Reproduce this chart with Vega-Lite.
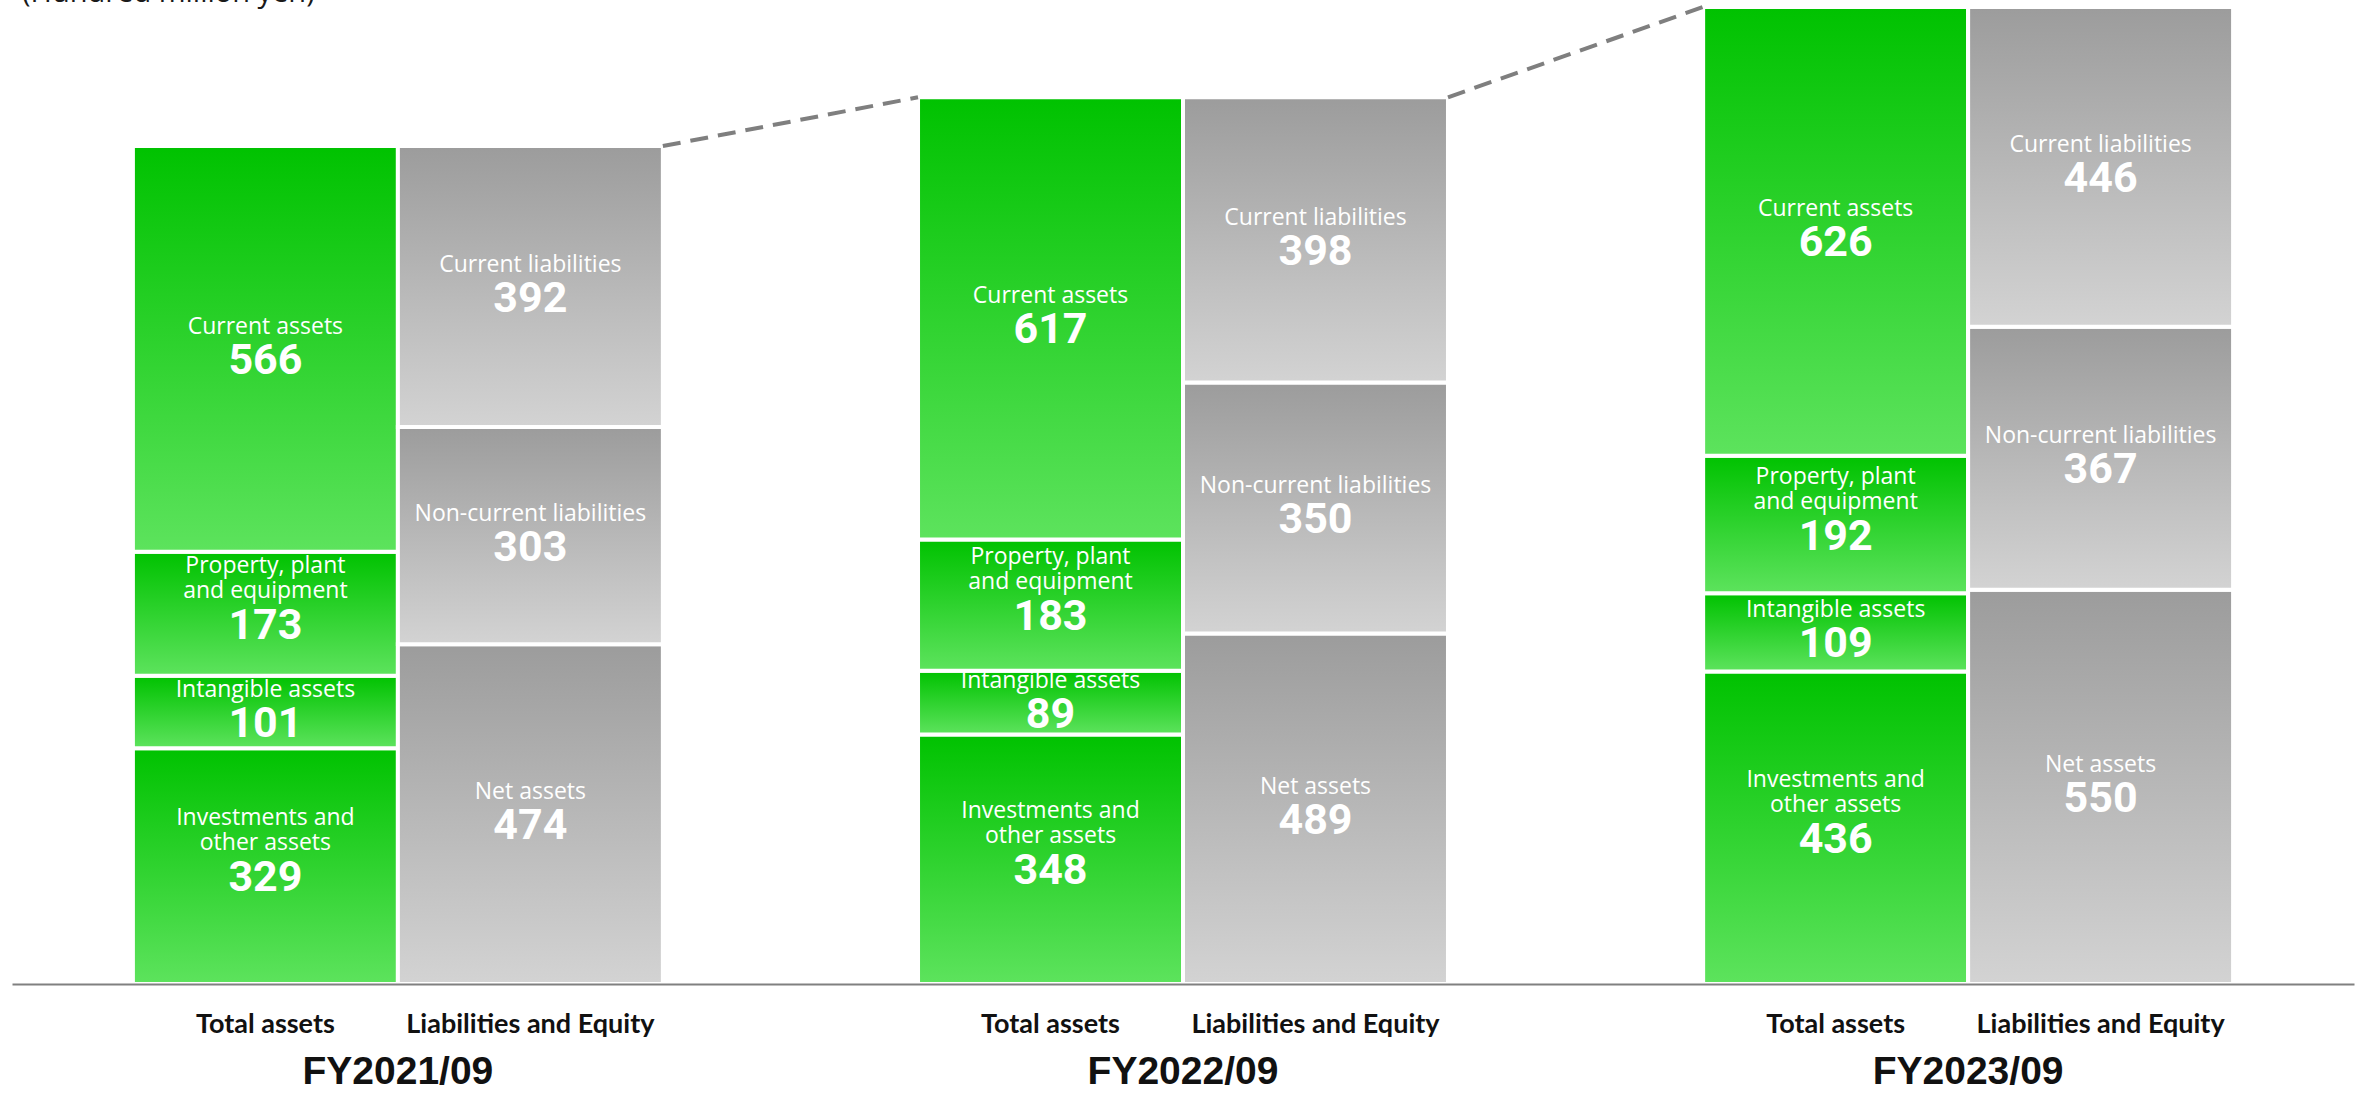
{
  "$schema": "https://vega.github.io/schema/vega-lite/v6.json",
  "autosize": {"type": "none"},
  "padding": {"left": 12, "top": 7, "right": 12, "bottom": 110},
  "width": 2342,
  "height": 977,
  "background": "white",
  "config": {"view": {"stroke": null}},
  "title": {
    "text": "(Hundred million yen)",
    "anchor": "start",
    "frame": "group",
    "font": "Open Sans",
    "fontSize": 29,
    "fontWeight": "normal",
    "color": "#1a1a1a",
    "baseline": "alphabetic",
    "offset": -26,
    "dx": 10
  },
  "datasets": {
    "balance": [
      {"year": "FY2021/09", "side": "Total assets", "item": "Investments and\nother assets", "order": 1, "value": 329},
      {"year": "FY2021/09", "side": "Total assets", "item": "Intangible assets", "order": 2, "value": 101},
      {"year": "FY2021/09", "side": "Total assets", "item": "Property, plant\nand equipment", "order": 3, "value": 173},
      {"year": "FY2021/09", "side": "Total assets", "item": "Current assets", "order": 4, "value": 566},
      {"year": "FY2021/09", "side": "Liabilities and Equity", "item": "Net assets", "order": 1, "value": 474},
      {"year": "FY2021/09", "side": "Liabilities and Equity", "item": "Non-current liabilities", "order": 2, "value": 303},
      {"year": "FY2021/09", "side": "Liabilities and Equity", "item": "Current liabilities", "order": 3, "value": 392},
      {"year": "FY2022/09", "side": "Total assets", "item": "Investments and\nother assets", "order": 1, "value": 348},
      {"year": "FY2022/09", "side": "Total assets", "item": "Intangible assets", "order": 2, "value": 89},
      {"year": "FY2022/09", "side": "Total assets", "item": "Property, plant\nand equipment", "order": 3, "value": 183},
      {"year": "FY2022/09", "side": "Total assets", "item": "Current assets", "order": 4, "value": 617},
      {"year": "FY2022/09", "side": "Liabilities and Equity", "item": "Net assets", "order": 1, "value": 489},
      {"year": "FY2022/09", "side": "Liabilities and Equity", "item": "Non-current liabilities", "order": 2, "value": 350},
      {"year": "FY2022/09", "side": "Liabilities and Equity", "item": "Current liabilities", "order": 3, "value": 398},
      {"year": "FY2023/09", "side": "Total assets", "item": "Investments and\nother assets", "order": 1, "value": 436},
      {"year": "FY2023/09", "side": "Total assets", "item": "Intangible assets", "order": 2, "value": 109},
      {"year": "FY2023/09", "side": "Total assets", "item": "Property, plant\nand equipment", "order": 3, "value": 192},
      {"year": "FY2023/09", "side": "Total assets", "item": "Current assets", "order": 4, "value": 626},
      {"year": "FY2023/09", "side": "Liabilities and Equity", "item": "Net assets", "order": 1, "value": 550},
      {"year": "FY2023/09", "side": "Liabilities and Equity", "item": "Non-current liabilities", "order": 2, "value": 367},
      {"year": "FY2023/09", "side": "Liabilities and Equity", "item": "Current liabilities", "order": 3, "value": 446}
    ],
    "links": [
      {"from": "FY2021/09", "to": "FY2022/09", "fromTotal": 1169, "toTotal": 1237},
      {"from": "FY2022/09", "to": "FY2023/09", "fromTotal": 1237, "toTotal": 1363}
    ]
  },
  "layer": [
    {
      "data": {"name": "balance"},
      "transform": [{"filter": "datum.side === 'Total assets'"}],
      "mark": {
        "type": "bar",
        "stroke": "white",
        "strokeWidth": 4,
        "fill": {
          "gradient": "linear", "x1": 0, "y1": 0, "x2": 0, "y2": 1,
          "stops": [{"offset": 0, "color": "#00c200"}, {"offset": 1, "color": "#5de35d"}]
        }
      },
      "encoding": {
        "x": {
          "field": "year", "type": "nominal", "title": null,
          "scale": {"paddingInner": 0.325, "paddingOuter": 0.154},
          "axis": {
            "title": null, "grid": false, "ticks": false, "tickSize": 0, "zindex": 1,
            "domainColor": "#808080", "domainWidth": 2,
            "labelAngle": 0, "labelFont": "Liberation Sans", "labelFontWeight": "bold",
            "labelFontSize": 39, "labelColor": "#111111", "labelBaseline": "alphabetic",
            "labelPadding": 99, "labelLimit": 0
          }
        },
        "xOffset": {"field": "side", "type": "nominal", "sort": ["Total assets", "Liabilities and Equity"], "scale": {"paddingInner": 0, "paddingOuter": 0}},
        "y": {"field": "value", "type": "quantitative", "stack": "zero", "scale": {"domain": [0, 1363], "nice": false}, "axis": null},
        "order": {"field": "order", "type": "quantitative"}
      }
    },
    {
      "data": {"name": "balance"},
      "transform": [{"filter": "datum.side === 'Liabilities and Equity'"}],
      "mark": {
        "type": "bar",
        "stroke": "white",
        "strokeWidth": 4,
        "fill": {
          "gradient": "linear", "x1": 0, "y1": 0, "x2": 0, "y2": 1,
          "stops": [{"offset": 0, "color": "#9c9c9c"}, {"offset": 1, "color": "#d3d3d3"}]
        }
      },
      "encoding": {
        "x": {"field": "year", "type": "nominal", "title": null},
        "xOffset": {"field": "side", "type": "nominal", "sort": ["Total assets", "Liabilities and Equity"]},
        "y": {"field": "value", "type": "quantitative", "stack": "zero"},
        "order": {"field": "order", "type": "quantitative"}
      }
    },
    {
      "data": {"name": "balance"},
      "mark": {"type": "text", "font": "Open Sans", "fontSize": 23, "color": "white", "baseline": "bottom", "align": "center", "dy": -10},
      "encoding": {
        "x": {"field": "year", "type": "nominal", "title": null},
        "xOffset": {"field": "side", "type": "nominal", "sort": ["Total assets", "Liabilities and Equity"]},
        "y": {"field": "value", "type": "quantitative", "stack": "zero", "bandPosition": 0.5},
        "order": {"field": "order", "type": "quantitative"},
        "text": {"condition": {"test": "indexof(datum.item, '\\n') >= 0", "value": ""}, "field": "item", "type": "nominal"}
      }
    },
    {
      "data": {"name": "balance"},
      "mark": {"type": "text", "font": "Open Sans", "fontSize": 23, "color": "white", "baseline": "bottom", "align": "center", "dy": -36, "lineBreak": "\n", "lineHeight": 25},
      "encoding": {
        "x": {"field": "year", "type": "nominal", "title": null},
        "xOffset": {"field": "side", "type": "nominal", "sort": ["Total assets", "Liabilities and Equity"]},
        "y": {"field": "value", "type": "quantitative", "stack": "zero", "bandPosition": 0.5},
        "order": {"field": "order", "type": "quantitative"},
        "text": {"condition": {"test": "indexof(datum.item, '\\n') < 0", "value": ""}, "field": "item", "type": "nominal"}
      }
    },
    {
      "data": {"name": "balance"},
      "mark": {"type": "text", "font": "Roboto", "fontWeight": "bold", "fontSize": 43, "color": "white", "baseline": "middle", "align": "center", "dy": 12},
      "encoding": {
        "x": {"field": "year", "type": "nominal", "title": null},
        "xOffset": {"field": "side", "type": "nominal", "sort": ["Total assets", "Liabilities and Equity"]},
        "y": {"field": "value", "type": "quantitative", "stack": "zero", "bandPosition": 0.5},
        "order": {"field": "order", "type": "quantitative"},
        "text": {"field": "value", "type": "quantitative"}
      }
    },
    {
      "data": {"name": "balance"},
      "transform": [{"aggregate": [{"op": "sum", "field": "value", "as": "total"}], "groupby": ["year", "side"]}],
      "mark": {"type": "text", "font": "Lato", "fontWeight": "bold", "fontSize": 27, "color": "#111111", "baseline": "alphabetic", "align": "center", "dy": 49},
      "encoding": {
        "x": {"field": "year", "type": "nominal", "title": null},
        "xOffset": {"field": "side", "type": "nominal", "sort": ["Total assets", "Liabilities and Equity"]},
        "y": {"datum": 0, "type": "quantitative"},
        "text": {"field": "side", "type": "nominal"}
      }
    },
    {
      "data": {"name": "links"},
      "mark": {"type": "rule", "color": "#7f7f7f", "strokeWidth": 4, "strokeDash": [18, 10]},
      "encoding": {
        "x": {"field": "from", "type": "nominal", "bandPosition": 1, "title": null},
        "x2": {"field": "to", "bandPosition": 0},
        "y": {"field": "fromTotal", "type": "quantitative"},
        "y2": {"field": "toTotal"}
      }
    }
  ]
}
